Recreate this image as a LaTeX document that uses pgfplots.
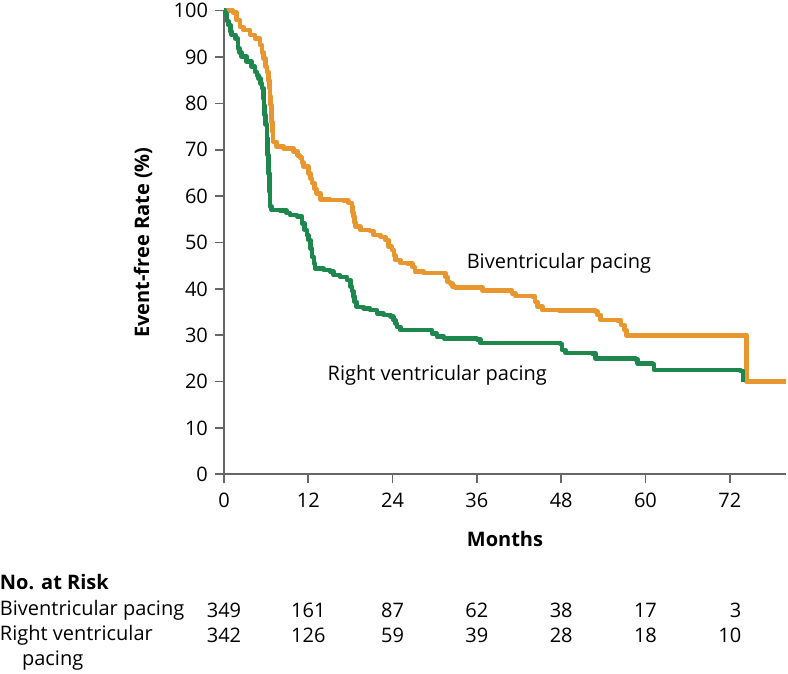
\documentclass[border=0pt]{standalone}
\usepackage{pgfplots}
\pgfplotsset{compat=1.18}
\usepackage{fontspec}
\setmainfont{Open Sans}
\definecolor{bivc}{RGB}{232,150,48}
\definecolor{rvc}{RGB}{30,135,78}
\begin{document}
\fontsize{10}{12}\selectfont
\begin{tikzpicture}
\path[use as bounding box] (-112pt,-99.85pt) rectangle (282pt,237.15pt);
\begin{axis}[
  at={(0,0)}, anchor=south west,
  scale only axis, width=281pt, height=231.8pt,
  xmin=0, xmax=80, ymin=0, ymax=100,
  axis lines=left, axis line style={-, draw=black!60, line width=0.8pt},
  xtick={0,12,24,36,48,60,72}, ytick={0,10,...,100},
  tick align=outside, tick style={draw=black!60, line width=0.8pt},
  major tick length=4.5pt,
  /pgf/number format/assume math mode=true,
  tick label style={font=\fontsize{10}{12}\selectfont},
  xticklabel style={yshift=-1.5pt},
  clip=false,
  xlabel={\bfseries Months}, ylabel={\bfseries Event-free Rate (\%)},
  label style={font=\fontsize{10.5}{12}\selectfont},
  every axis x label/.style={at={(axis description cs:0.5,0)}, anchor=center, yshift=-32.4pt},
  every axis y label/.style={at={(axis description cs:-0.144,0.5)}, anchor=center, rotate=90},
]
\addplot[const plot, color=bivc, line width=2.3pt, line join=round] coordinates {
(0,100) (1.3,99.6) (1.8,98) (2.3,96.5) (2.8,95.8) (3.7,94.8) (4.4,94) (5.1,92.6) (5.4,91) (5.6,89.7) (5.9,88) (6.1,86.8) (6.3,85) (6.45,83.3) (6.55,81.5) (6.66,79.7) (6.75,77.8) (6.8,76) (6.9,74) (7.0,71.7) (7.5,70.7) (8.5,70.3) (9.9,69.6) (10.5,68.8) (10.8,68.3) (11.1,67.3) (11.3,66.4) (12.0,64.9) (12.3,63.8) (12.5,62.8) (12.9,61.5) (13.2,60.6) (13.7,59.3) (15.1,59.2) (17.0,59) (17.7,58.5) (18.2,57.7) (18.3,56.5) (18.4,55.6) (18.6,54.3) (18.7,53.4) (19.4,52.7) (20.8,52.5) (21.3,51.6) (22.3,51.2) (23.0,50.5) (23.4,49.1) (23.9,48.4) (24.2,47.2) (24.4,46.2) (25.1,45.6) (26.1,45.5) (26.8,44.7) (27.2,43.7) (28.4,43.4) (31.3,43.4) (31.5,42.6) (31.8,41.5) (32.2,41.2) (32.5,40.5) (32.9,40.3) (36.3,40.3) (36.8,39.6) (40.8,39.6) (41.0,39.0) (41.5,38.5) (43.9,38.3) (44.3,37.2) (44.6,36.2) (45.3,35.4) (47.7,35.3) (52.9,35.1) (53.2,34.4) (53.6,33.3) (56.0,33.2) (56.5,32.2) (57.0,31.1) (57.3,30.0) (74.4,30.0) (74.4,20) (80,20)
};
\addplot[const plot, color=rvc, line width=2.3pt, line join=round] coordinates {
(0,100) (0.14,99.4) (0.4,97.8) (0.6,96.9) (0.9,95.5) (1.1,94.8) (1.6,94) (2.0,91.9) (2.2,91) (2.5,90.1) (3.2,89) (3.95,87.9) (4.4,86.8) (4.7,86) (4.9,85.4) (5.2,84.3) (5.4,83.3) (5.6,81.1) (5.7,79.5) (5.8,77.5) (5.9,75.5) (6.1,72.5) (6.2,68.9) (6.3,64.9) (6.45,61) (6.56,57.7) (6.8,57) (8.0,56.9) (8.9,56.4) (9.4,55.9) (10.4,55.6) (11.1,54.1) (11.5,52.7) (11.8,51.6) (12.0,50.5) (12.3,48.7) (12.5,46.9) (12.8,45.5) (12.97,44.4) (14.2,44.1) (15.1,43.7) (15.6,43) (16.5,42.6) (17.5,41.9) (18.0,40.5) (18.2,39.5) (18.4,38.3) (18.6,37.2) (18.9,36.1) (19.9,35.8) (20.8,35.4) (21.8,34.7) (22.7,34.4) (23.7,34) (24.1,33.3) (24.4,32.5) (24.6,31.8) (25.1,31.1) (28.9,31.1) (29.6,30.4) (30.3,29.7) (31.3,29.3) (36.0,29.1) (36.5,28.3) (47.9,28.1) (48.1,26.8) (48.6,26.2) (52.4,26.1) (52.9,25.0) (58.6,24.8) (58.9,23.9) (61.0,23.8) (61.2,22.5) (73.5,22.3) (73.9,20)
};
\node[anchor=west, inner sep=0] at (axis cs:34.5,45.6) {Biventricular pacing};
\node[anchor=west, inner sep=0] at (axis cs:14.7,21.4) {Right ventricular pacing};
% Number at risk
\node[anchor=west, inner sep=0, font=\bfseries] at (axis cs:-31.95,-23.2) {No. at Risk};
\node[anchor=west, inner sep=0] at (axis cs:-31.95,-29.3) {Biventricular pacing};
\node[anchor=west, inner sep=0] at (axis cs:-31.95,-34.7) {Right ventricular};
\node[anchor=west, inner sep=0] at (axis cs:-28.8,-40.1) {pacing};
\node[inner sep=0] at (axis cs:0,-29.3) {349};
\node[inner sep=0] at (axis cs:12,-29.3) {161};
\node[inner sep=0] at (axis cs:24,-29.3) {87};
\node[inner sep=0] at (axis cs:36,-29.3) {62};
\node[inner sep=0] at (axis cs:48,-29.3) {38};
\node[inner sep=0] at (axis cs:60,-29.3) {17};
\node[inner sep=0] at (axis cs:72,-29.3) {\hphantom{1}3};
\node[inner sep=0] at (axis cs:0,-34.7) {342};
\node[inner sep=0] at (axis cs:12,-34.7) {126};
\node[inner sep=0] at (axis cs:24,-34.7) {59};
\node[inner sep=0] at (axis cs:36,-34.7) {39};
\node[inner sep=0] at (axis cs:48,-34.7) {28};
\node[inner sep=0] at (axis cs:60,-34.7) {18};
\node[inner sep=0] at (axis cs:72,-34.7) {10};
\end{axis}
\end{tikzpicture}
\end{document}
